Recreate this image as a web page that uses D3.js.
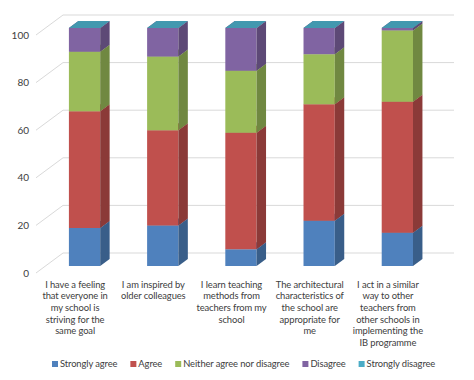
<!DOCTYPE html>
<html>
<head>
<meta charset="utf-8">
<script src="https://cdn.jsdelivr.net/npm/d3@7"></script>
<style>
  html, body { margin: 0; padding: 0; background: #fff; }
  text { font-family: Lato, "Liberation Sans", sans-serif; fill: #404040; }
</style>
</head>
<body>
<svg id="chart" width="474" height="380"></svg>
<script>
const categories = [
  "I have a feeling\nthat everyone in\nmy school is\nstriving for the\nsame goal",
  "I am inspired by\nolder colleagues",
  "I learn teaching\nmethods from\nteachers from my\nschool",
  "The architectural\ncharacteristics of\nthe school are\nappropriate for\nme",
  "I act in a similar\nway to other\nteachers from\nother schools in\nimplementing the\nIB programme"
];
const seriesNames = ["Strongly agree", "Agree", "Neither agree nor disagree", "Disagree", "Strongly disagree"];
const stronglyAgree    = [16, 17, 7, 19, 14];
const agree            = [49, 40, 49, 49, 55];
const neither          = [25, 31, 26, 21, 30];
const disagree         = [10, 12, 18, 11, 1];
const stronglyDisagree = [0, 0, 0, 0, 0];
const yTicks = [0, 20, 40, 60, 80, 100];
const colors = ["#4F81BD", "#C0504D", "#9BBB59", "#8064A2", "#4BACC6"];

const seriesValues = [stronglyAgree, agree, neither, disagree, stronglyDisagree];

const svg = d3.select("#chart");
const FS = 9.4, LS = -0.1;

const DEPTH = { dx: 27, dy: -20 };
const zFront = 0.35, zBack = 0.7;

const x = d3.scaleBand().domain(categories).range([36, 427]).padding(0);
const y = d3.scaleLinear().domain([0, 100]).range([273, 35]);
const barW = x.bandwidth() * 0.4;

const proj = (px, v, z) => [px + DEPTH.dx * z, y(v) + DEPTH.dy * z];

const grid = svg.append("g");
yTicks.forEach(t => {
  const a = proj(x.range()[0], t, 0), b = proj(x.range()[0], t, 1), c = proj(x.range()[1], t, 1);
  grid.append("path")
    .attr("d", `M${a[0]},${a[1]}L${b[0]},${b[1]}L${c[0]},${c[1]}`)
    .attr("fill", "none").attr("stroke", "#d9d9d9").attr("stroke-width", 1);
});

svg.append("g").selectAll("text").data(yTicks).join("text")
  .attr("x", 29).attr("y", d => y(d)).attr("dy", "0.35em")
  .attr("text-anchor", "end").attr("font-size", 10).text(d => d);

const table = categories.map((c, i) => {
  const o = { cat: c };
  seriesNames.forEach((s, k) => o[s] = seriesValues[k][i]);
  return o;
});
const stacked = d3.stack().keys(seriesNames)(table);

const bars = svg.append("g");
categories.forEach((c, i) => {
  const x0 = x(c) + (x.bandwidth() - barW) / 2;
  const x1 = x0 + barW;
  stacked.forEach((layer, k) => {
    const [v0, v1] = layer[i];
    const col = d3.color(colors[k]);
    const fbl = proj(x0, v0, zFront), fbr = proj(x1, v0, zFront);
    const ftl = proj(x0, v1, zFront), ftr = proj(x1, v1, zFront);
    const bbr = proj(x1, v0, zBack), btr = proj(x1, v1, zBack), btl = proj(x0, v1, zBack);
    const poly = pts => "M" + pts.map(p => p.join(",")).join("L") + "Z";
    if (v1 > v0) {
      bars.append("path").attr("d", poly([fbl, fbr, ftr, ftl])).attr("fill", col.formatHex());
      bars.append("path").attr("d", poly([fbr, bbr, btr, ftr])).attr("fill", col.darker(0.9).formatHex());
    }
    bars.append("path").attr("d", poly([ftl, ftr, btr, btl])).attr("fill", col.darker(0.35).formatHex());
  });
});

const labels = svg.append("g");
categories.forEach(c => {
  const cx = x(c) + x.bandwidth() / 2;
  const t = labels.append("text").attr("text-anchor", "middle")
    .attr("font-size", FS).attr("letter-spacing", LS);
  c.split("\n").forEach((line, j) => {
    t.append("tspan").attr("x", cx).attr("y", 287.5 + j * 11.7).text(line);
  });
});

const legend = svg.append("g");
let lx = 55;
seriesNames.forEach((s, k) => {
  legend.append("rect").attr("x", lx - 3).attr("y", 361).attr("width", 6).attr("height", 6).attr("fill", colors[k]);
  const t = legend.append("text").attr("x", lx + 5).attr("y", 364).attr("dy", "0.35em")
    .attr("font-size", FS).attr("letter-spacing", LS).text(s);
  lx += 5 + t.node().getComputedTextLength() + 16;
});
</script>
</body>
</html>
